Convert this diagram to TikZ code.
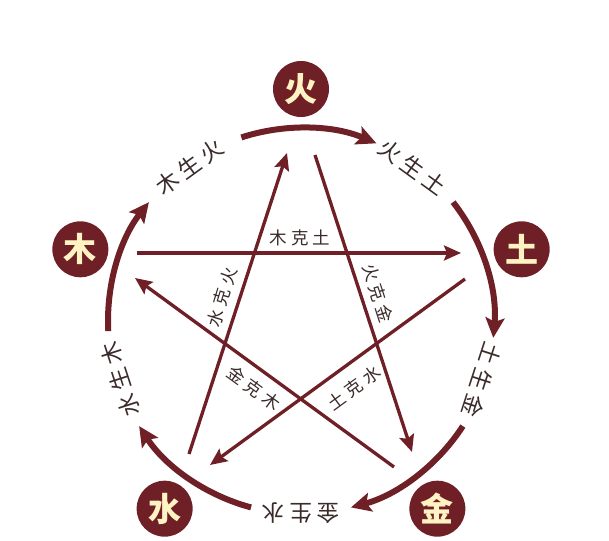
\documentclass[tikz,border=0pt]{standalone}
\usepackage{fontspec}
\newfontfamily\cjk{Noto Sans CJK SC}
\usetikzlibrary{arrows.meta,calc}
\definecolor{maroon}{HTML}{6E2026}
\definecolor{cream}{HTML}{FFF3C4}
\definecolor{ink}{HTML}{3A2A2A}
\begin{document}
\begin{tikzpicture}[x=1pt,y=1pt,
  elem/.style={circle,fill=maroon,minimum size=56pt,inner sep=0pt,text=cream,
    font=\cjk\bfseries\fontsize{33}{33}\selectfont},
  ring/.style={line width=6pt,draw=maroon,-{Stealth[length=20pt,width=19pt,inset=4pt]}},
  ke/.style={line width=3.3pt,draw=maroon,-{Stealth[length=17pt,width=15pt,inset=3pt]}},
  sheng/.style={text=ink,inner sep=0pt,font=\cjk\fontsize{22.5}{22.5}\selectfont\addfontfeature{LetterSpace=22}},
  kelab/.style={text=ink,inner sep=0pt,font=\cjk\fontsize{17.5}{17.5}\selectfont\addfontfeature{LetterSpace=24}}]
\useasboundingbox (0,0) rectangle (609,540);
\coordinate (C) at (301,219);
% elements
\node[elem] (huo) at ($(C)+(90:232)$) {火};
\node[elem] (tu)  at ($(C)+(18:232)$) {土};
\node[elem] (jin) at ($(C)+(-54:232)$) {金};
\node[elem] (shui) at ($(C)+(-126:232)$) {水};
\node[elem] (mu)  at ($(C)+(162:232)$) {木};
% generating ring
\foreach \s/\e in {108/67, 38/-5, -33/-75, -105/-147, 183/142}
  \draw[ring] ($(C)+(\s:193)$) arc[start angle=\s,end angle=\e,radius=193];
% ring labels
\node[sheng,rotate=36]   (l1) at ($(C)+(126:190)$) {木生火};
\node[sheng,rotate=-36]  (l2) at ($(C)+(54:190)$) {火生土};
\node[sheng,rotate=-108] (l3) at ($(C)+(-18:190)$) {土生金};
\node[sheng,rotate=180]  (l4) at ($(C)+(-90:192)$) {金生水};
\node[sheng,rotate=108]  (l5) at ($(C)+(-162:190)$) {水生木};
% controlling star
\coordinate (mk1) at (137,287); \coordinate (mk2) at (461,287);
\coordinate (tk1) at (465,261); \coordinate (tk2) at (210,75);
\coordinate (sk1) at (189,86);  \coordinate (sk2) at (287,387);
\coordinate (hk1) at (315,385); \coordinate (hk2) at (412,88);
\coordinate (jk1) at (394,73);  \coordinate (jk2) at (135,262);
\draw[ke] (mk1) -- (mk2);
\draw[ke] (tk1) -- (tk2);
\draw[ke] (sk1) -- (sk2);
\draw[ke] (hk1) -- (hk2);
\draw[ke] (jk1) -- (jk2);
% star labels
\node[kelab] (k1) at (300,302) {木克土};
\node[kelab,rotate=73] (k2) at (222,243) {水克火};
\node[kelab,rotate=-72] (k3) at (378,247) {火克金};
\node[kelab,rotate=-36] (k4) at (254,152) {金克木};
\node[kelab,rotate=36] (k5) at (354,152) {土克水};
\end{tikzpicture}
\end{document}
